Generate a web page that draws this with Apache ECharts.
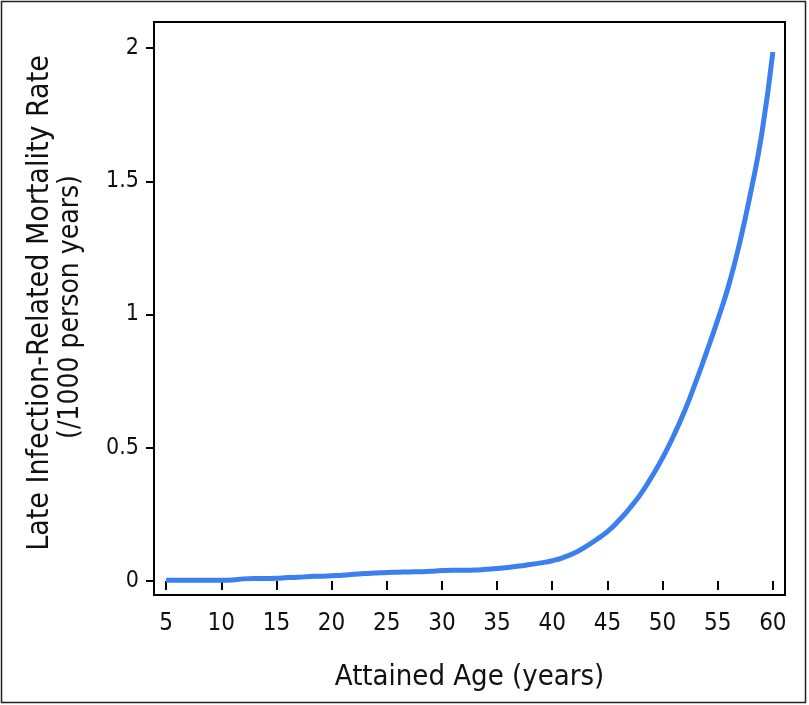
<!DOCTYPE html>
<html>
<head>
<meta charset="utf-8">
<script src="https://cdn.jsdelivr.net/npm/echarts@6/dist/echarts.min.js"></script>
<style>
  html, body { margin: 0; padding: 0; background: #fff; }
  #chart { width: 809px; height: 705px; }
</style>
</head>
<body>
<div id="chart"></div>
<script>
// attained age (years)
const ages = [5, 6, 7, 8, 9, 10, 11, 12, 13, 14, 15, 16, 17, 18, 19, 20, 21, 22, 23, 24, 25,
  26, 27, 28, 29, 30, 31, 32, 33, 34, 35, 36, 37, 38, 39, 40, 41, 42, 43, 44, 45,
  46, 47, 48, 49, 50, 51, 52, 53, 54, 55, 56, 57, 58, 59, 60]
// late infection-related mortality rate (/1000 person years)
const rates = [0.003, 0.003, 0.003, 0.003, 0.003, 0.003, 0.004, 0.008, 0.009, 0.009, 0.010,
  0.013, 0.014, 0.017, 0.018, 0.020, 0.022, 0.025, 0.028, 0.030, 0.032,
  0.033, 0.034, 0.035, 0.037, 0.039, 0.040, 0.040, 0.041, 0.044, 0.047,
  0.051, 0.056, 0.062, 0.068, 0.076, 0.088, 0.105, 0.128, 0.155, 0.185,
  0.225, 0.272, 0.325, 0.390, 0.462, 0.545, 0.638, 0.745, 0.860, 0.980,
  1.110, 1.270, 1.460, 1.680, 1.985]
const xTicks = [5, 10, 15, 20, 25, 30, 35, 40, 45, 50, 55, 60]
const yTicks = [0, 0.5, 1, 1.5, 2]

const font = "'Liberation Sans Narrow', 'DejaVu Sans Condensed', sans-serif"
const chart = echarts.init(document.getElementById('chart'))

const option = {
  animation: false,
  backgroundColor: '#fff',
  textStyle: { fontFamily: font, fontSize: 23, color: '#111' },
  grid: {
    left: 154,
    top: 22,
    right: 24,
    bottom: 110,
    show: true,
    borderColor: '#000',
    borderWidth: 2
  },
  xAxis: {
    type: 'value',
    min: 3.9,
    max: 61.1,
    axisLine: { show: false },
    splitLine: { show: false },
    axisTick: {
      show: true,
      customValues: xTicks,
      length: 9,
      lineStyle: { color: '#000', width: 2 }
    },
    axisLabel: {
      customValues: xTicks,
      margin: 17,
      fontSize: 24,
      fontFamily: font,
      color: '#111'
    },
    name: 'Attained Age (years)',
    nameLocation: 'middle',
    nameGap: 68,
    nameTextStyle: { fontSize: 29, fontFamily: font, color: '#111' }
  },
  yAxis: {
    type: 'value',
    min: -0.0525,
    max: 2.0976,
    axisLine: { show: false },
    splitLine: { show: false },
    axisTick: {
      show: true,
      customValues: yTicks,
      length: 8,
      lineStyle: { color: '#000', width: 2 }
    },
    axisLabel: {
      customValues: yTicks,
      margin: 15,
      fontSize: 23,
      fontFamily: font,
      color: '#111'
    }
  },
  graphic: [
    // outer frame
    {
      type: 'rect',
      shape: { x: 1.5, y: 1.5, width: 804, height: 701 },
      style: { fill: 'none', stroke: '#222', lineWidth: 1.5 }
    },
    {
      type: 'text',
      x: 40,
      y: 303,
      rotation: Math.PI / 2,
      style: {
        text: 'Late Infection-Related Mortality Rate',
        fontSize: 30,
        fontFamily: font,
        fill: '#111',
        align: 'center',
        verticalAlign: 'middle'
      }
    },
    {
      type: 'text',
      x: 71,
      y: 307,
      rotation: Math.PI / 2,
      style: {
        text: '(/1000 person years)',
        fontSize: 28,
        fontFamily: font,
        fill: '#111',
        align: 'center',
        verticalAlign: 'middle'
      }
    }
  ],
  series: [
    {
      type: 'line',
      data: ages.map((a, i) => [a, rates[i]]),
      showSymbol: false,
      smooth: 0.5,
      lineStyle: { color: '#3b80ee', width: 5 }
    }
  ]
}
chart.setOption(option)
</script>
</body>
</html>
